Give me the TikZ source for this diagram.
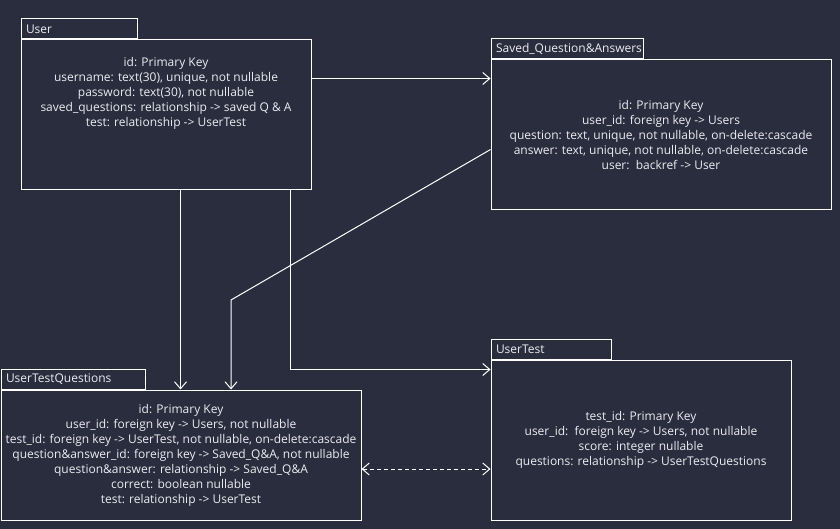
\documentclass[tikz,border=0pt]{standalone}
\usepackage{fontspec}
\setmainfont{Open Sans}
\usetikzlibrary{positioning,arrows.meta}
\definecolor{bgdark}{HTML}{2A2D3E}
\definecolor{fglight}{HTML}{ECECF0}

\tikzset{
  tablebody/.style 2 args={draw=white, line width=1pt, minimum width=#1,
    minimum height=#2, inner sep=0pt, align=center, text=fglight,
    font=\fontsize{12}{15}\selectfont},
  tabletab/.style={draw=white, line width=1pt, anchor=south west,
    minimum height=20pt, inner xsep=5pt, inner ysep=0pt, text width=#1-10pt,
    align=left, text=fglight, font=\fontsize{12}{15}\selectfont},
  rel/.style={draw=white, line width=1pt, -{Straight Barb[length=7pt,width=12pt]}},
  optrel/.style={rel, {Straight Barb[length=7pt,width=12pt]}-{Straight Barb[length=7pt,width=12pt]},
    dash pattern=on 4pt off 3pt}
}

\begin{document}
\begin{tikzpicture}[x=1pt, y=-1pt]
  % background and page size
  \fill[bgdark] (0,0) rectangle (840,529);
  \useasboundingbox (0,0) rectangle (840,529);

  % tables
  \node[tablebody={290pt}{150pt}] (user) at (166,115) {};
  \node[tabletab=116pt] (usertab) at (user.north west) {User};
  \node[text=fglight, align=center, font=\fontsize{12}{15}\selectfont,
    below=14pt of user.north] (userfields) {id: Primary Key\\
    username: text(30), unique, not nullable\\
    password: text(30), not nullable\\
    saved\_questions: relationship -> saved Q \& A\\
    test: relationship -> UserTest};

  \node[tablebody={340pt}{150pt}] (saved) at (661,135) {id: Primary Key\\
    user\_id: foreign key -> Users\\
    question: text, unique, not nullable, on-delete:cascade\\
    answer: text, unique, not nullable, on-delete:cascade\\
    user:\ \ backref -> User};
  \node[tabletab=152pt] (savedtab) at (saved.north west) {Saved\_Question\&Answers};

  \node[tablebody={360pt}{130pt}] (utq) at (181,455) {id: Primary Key\\
    user\_id: foreign key -> Users, not nullable\\
    test\_id: foreign key -> UserTest, not nullable, on-delete:cascade\\
    question\&answer\_id: foreign key -> Saved\_Q\&A, not nullable\\
    question\&answer: relationship -> Saved\_Q\&A\\
    correct: boolean nullable\\
    test: relationship -> UserTest};
  \node[tabletab=144pt] (utqtab) at (utq.north west) {UserTestQuestions};

  \node[tablebody={300pt}{160pt}] (usertest) at (641,440) {test\_id: Primary Key\\
    user\_id:\ \ foreign key -> Users, not nullable\\
    score: integer nullable\\
    questions: relationship -> UserTestQuestions};
  \node[tabletab=120pt] (usertesttab) at (usertest.north west) {UserTest};

  % relations
  \coordinate (qabend) at (231,300);
  \draw[rel] ([yshift=-39pt]user.north east) -- ([yshift=-39pt]user.north east -| saved.west);
  \draw[rel] ([xshift=160pt]user.south west) -- ([xshift=160pt]user.south west |- utq.north);
  \draw[rel] ([yshift=-90pt]saved.north west) -- (qabend) -- (qabend |- utq.north);
  \draw[rel] ([xshift=270pt]user.south west) |- ([yshift=-10pt]usertest.north west);
  \draw[optrel] ([yshift=-14pt]utq.east) -- ([yshift=-14pt]utq.east -| usertest.west);
\end{tikzpicture}
\end{document}
